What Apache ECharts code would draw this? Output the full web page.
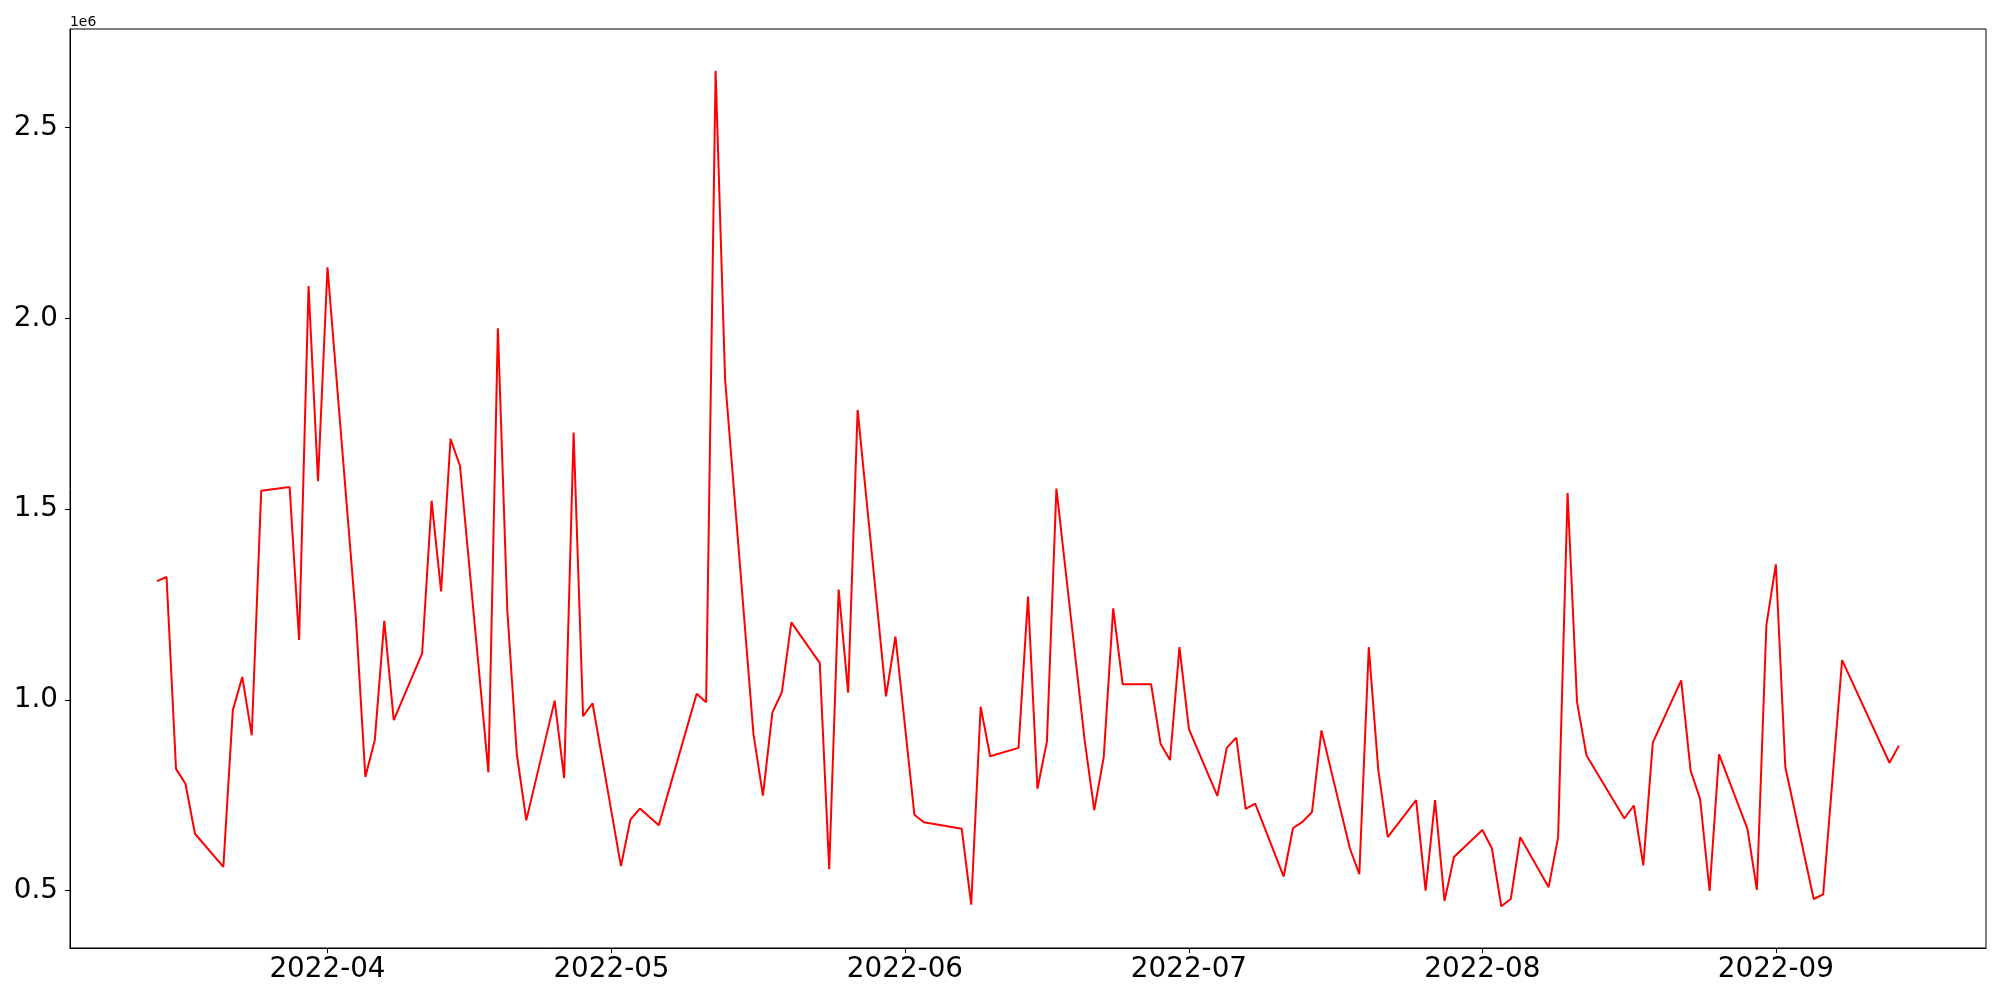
<!DOCTYPE html>
<html>
<head>
<meta charset="utf-8">
<script src="https://cdn.jsdelivr.net/npm/echarts@6/dist/echarts.min.js"></script>
<style>
html,body{margin:0;padding:0;background:#fff;}
#chart{width:2000px;height:1000px;}
</style>
</head>
<body>
<div id="chart"></div>
<script>
const dates = [
'2022-03-14','2022-03-15','2022-03-16','2022-03-17','2022-03-18','2022-03-21','2022-03-22','2022-03-23','2022-03-24','2022-03-25',
'2022-03-28','2022-03-29','2022-03-30','2022-03-31','2022-04-01','2022-04-04','2022-04-05','2022-04-06','2022-04-07','2022-04-08',
'2022-04-11','2022-04-12','2022-04-13','2022-04-14','2022-04-15','2022-04-18','2022-04-19','2022-04-20','2022-04-21','2022-04-22',
'2022-04-25','2022-04-26','2022-04-27','2022-04-28','2022-04-29','2022-05-02','2022-05-03','2022-05-04','2022-05-06','2022-05-10',
'2022-05-11','2022-05-12','2022-05-13','2022-05-16','2022-05-17','2022-05-18','2022-05-19','2022-05-20','2022-05-23','2022-05-24',
'2022-05-25','2022-05-26','2022-05-27','2022-05-30','2022-05-31','2022-06-02','2022-06-03','2022-06-07','2022-06-08','2022-06-09',
'2022-06-10','2022-06-13','2022-06-14','2022-06-15','2022-06-16','2022-06-17','2022-06-20','2022-06-21','2022-06-22','2022-06-23',
'2022-06-24','2022-06-27','2022-06-28','2022-06-29','2022-06-30','2022-07-01','2022-07-04','2022-07-05','2022-07-06','2022-07-07',
'2022-07-08','2022-07-11','2022-07-12','2022-07-13','2022-07-14','2022-07-15','2022-07-18','2022-07-19','2022-07-20','2022-07-21',
'2022-07-22','2022-07-25','2022-07-26','2022-07-27','2022-07-28','2022-07-29','2022-08-01','2022-08-02','2022-08-03','2022-08-04',
'2022-08-05','2022-08-08','2022-08-09','2022-08-10','2022-08-11','2022-08-12','2022-08-16','2022-08-17','2022-08-18','2022-08-19',
'2022-08-22','2022-08-23','2022-08-24','2022-08-25','2022-08-26','2022-08-29','2022-08-30','2022-08-31','2022-09-01','2022-09-02',
'2022-09-05','2022-09-06','2022-09-08','2022-09-13','2022-09-14'
];
const values = [
1311000,1322000,819000,780000,649000,562000,973000,1060000,907000,1548000,
1558000,1157000,2085000,1573000,2134000,1215000,798000,895000,1207000,947000,
1122000,1522000,1284000,1684000,1613000,810000,1974000,1233000,858000,684000,
998000,795000,1701000,957000,991000,564000,686000,715000,671000,1016000,
994000,2649000,1841000,910000,749000,967000,1020000,1203000,1097000,556000,
1289000,1019000,1760000,1009000,1166000,699000,679000,662000,463000,982000,
852000,874000,1271000,767000,891000,1554000,891000,711000,850000,1240000,
1041000,1041000,885000,842000,1138000,923000,748000,874000,901000,714000,
728000,537000,664000,680000,706000,920000,611000,543000,1138000,817000,
640000,737000,500000,737000,473000,588000,659000,611000,459000,478000,
640000,509000,640000,1542000,994000,854000,689000,723000,566000,888000,
1051000,814000,740000,499000,857000,662000,502000,1196000,1355000,824000,
478000,490000,1104000,835000,880000
];
const xTickLabels = ['2022-04','2022-05','2022-06','2022-07','2022-08','2022-09'];
const yTickLabels = ['0.5','1.0','1.5','2.0','2.5'];

function parseLocal(s){
  const p = s.split('-').map(Number);
  return new Date(p[0], p[1]-1, p[2] || 1).getTime();
}
const tFirst = parseLocal(dates[0]);
const tLast = parseLocal(dates[dates.length-1]);
const span = tLast - tFirst;
const xMin = tFirst - span*0.05;
const xMax = tLast + span*0.05;
const xTickValues = xTickLabels.map(parseLocal);
const yTickValues = yTickLabels.map(s => parseFloat(s)*1e6);
const vMin = Math.min(...values), vMax = Math.max(...values);
const yMin = vMin - (vMax - vMin)*0.05;
const yMax = vMax + (vMax - vMin)*0.05;

const seriesData = dates.map((d,i) => [parseLocal(d), values[i]]);
const FONT = 'DejaVu Sans';

const chart = echarts.init(document.getElementById('chart'), null, {renderer:'canvas'});
chart.setOption({
  animation: false,
  backgroundColor: '#fff',
  grid: {left: 70, right: 14, top: 29, bottom: 52, show: true, borderColor: '#000', borderWidth: 1, containLabel: false},
  xAxis: {
    type: 'value', min: xMin, max: xMax, scale: true,
    axisLine: {show: true, onZero: false, lineStyle: {color: '#000', width: 1}},
    axisTick: {show: true, length: 5, lineStyle: {color: '#000', width: 1}, customValues: xTickValues},
    axisLabel: {
      show: true, color: '#000', fontSize: 27.8, fontFamily: FONT, margin: 8,
      customValues: xTickValues, showMinLabel: true, showMaxLabel: true,
      formatter: function(v){
        let best = 0, bd = Infinity;
        xTickValues.forEach((t,i) => { const d = Math.abs(t - v); if (d < bd) { bd = d; best = i; } });
        return xTickLabels[best];
      }
    },
    splitLine: {show: false}
  },
  yAxis: {
    type: 'value', min: yMin, max: yMax, scale: true,
    axisLine: {show: true, onZero: false, lineStyle: {color: '#000', width: 1}},
    axisTick: {show: true, length: 5, lineStyle: {color: '#000', width: 1}, customValues: yTickValues},
    axisLabel: {
      show: true, color: '#000', fontSize: 27.8, fontFamily: FONT, margin: 12,
      customValues: yTickValues,
      formatter: function(v){
        let best = 0, bd = Infinity;
        yTickValues.forEach((t,i) => { const d = Math.abs(t - v); if (d < bd) { bd = d; best = i; } });
        return yTickLabels[best];
      }
    },
    splitLine: {show: false}
  },
  graphic: [{
    type: 'text', left: 70, top: 15,
    style: {text: '1e6', fontSize: 13.9, fontFamily: FONT, fill: '#000'}
  }],
  series: [{
    type: 'line', data: seriesData, showSymbol: false, symbol: 'none',
    lineStyle: {color: '#ff0000', width: 2},
    itemStyle: {color: '#ff0000'}
  }]
});
</script>
</body>
</html>
